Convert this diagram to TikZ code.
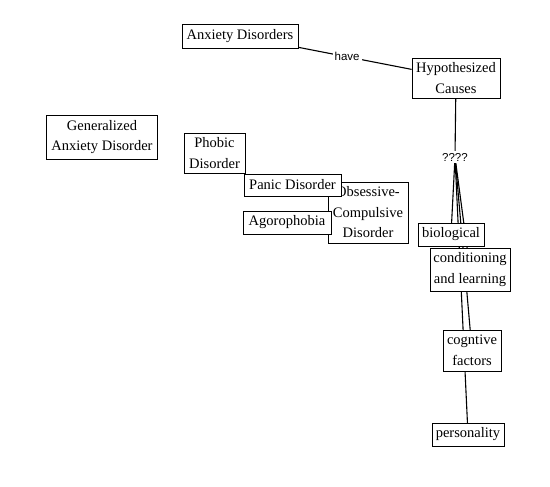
\documentclass[tikz,border=0pt]{standalone}
\usepackage{fontspec}
\setmainfont{Liberation Serif}
\newfontfamily\labelfont{Liberation Sans}
\usetikzlibrary{backgrounds}
\begin{document}
\begin{tikzpicture}[x=1pt,y=-1pt,
  box/.style={draw, fill=white, line width=0.8pt, inner sep=0pt, align=center,
    font=\fontsize{14.5}{20.5}\selectfont},
  lbl/.style={fill=white, inner sep=2pt, font=\labelfont\fontsize{11.5}{13}\selectfont},
  conn/.style={line width=1.1pt}]
\useasboundingbox (0,0) rectangle (550,487);
\node[box, minimum width=116, minimum height=24] (ad) at (240,36) {Anxiety Disorders};
\node[box, minimum width=88, minimum height=40] (hyp) at (456,78) {Hypothesized\\Causes};
\node[box, minimum width=111, minimum height=44] (gad) at (102,137) {Generalized\\Anxiety Disorder};
\node[box, minimum width=61, minimum height=40] (pho) at (214.5,153) {Phobic\\Disorder};
\node[box, minimum width=80, minimum height=61] (ocd) at (368,212.5) {Obsessive-\\Compulsive\\Disorder};
\node[box, minimum width=97, minimum height=22] (pan) at (292.5,185) {Panic Disorder};
\node[box, minimum width=88, minimum height=23] (ago) at (287,222.5) {Agorophobia};
\node[lbl] (q) at (455,157) {????};
\node[box, minimum width=66, minimum height=23] (bio) at (451,234.5) {biological};
\node[box, minimum width=80, minimum height=43] (cond) at (470,269.5) {conditioning\\and learning};
\node[box, minimum width=58, minimum height=41] (cog) at (472,350.5) {cogntive\\factors};
\node[box, minimum width=72, minimum height=23] (pers) at (468,434.5) {personality};
\draw[conn] (ad) -- node[lbl, pos=0.43] {have} (hyp);
\begin{pgfonlayer}{background}
\draw[conn] (hyp.center) -- (q.center);
\draw[conn] (q.center) -- (bio.center);
\draw[conn] (q.center) -- (cond.center);
\draw[conn] (q.center) -- (cog.center);
\draw[conn] (q.center) -- (pers.center);
\end{pgfonlayer}
\end{tikzpicture}
\end{document}
